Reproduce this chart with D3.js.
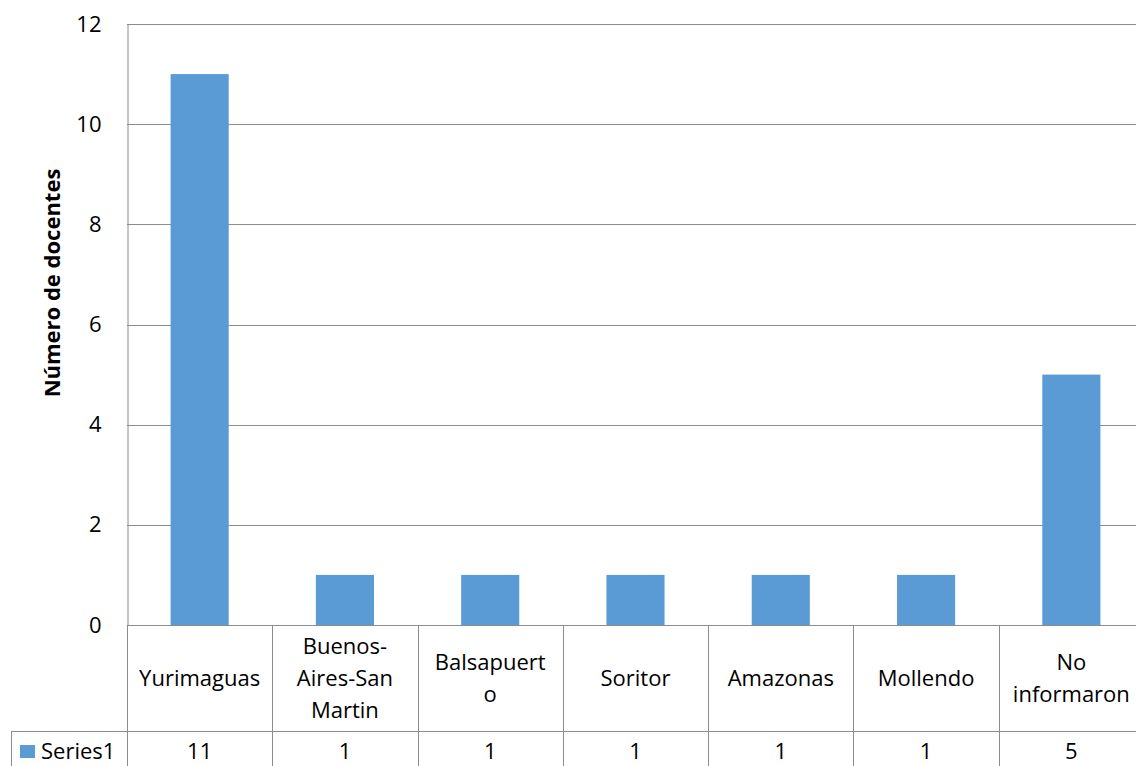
<!DOCTYPE html>
<html>
<head>
<meta charset="utf-8">
<script src="https://cdn.jsdelivr.net/npm/d3@7"></script>
<style>
  html, body { margin: 0; padding: 0; background: #fff; }
  svg { display: block; font-family: "Open Sans", Carlito, Calibri, sans-serif; }
</style>
</head>
<body>
<svg id="chart" width="1136" height="766"></svg>
<script>
// Teachers by place of origin
const categories = ["Yurimaguas", "Buenos-Aires-San Martin", "Balsapuerto", "Soritor", "Amazonas", "Mollendo", "No informaron"];
const categoryLines = [["Yurimaguas"], ["Buenos-", "Aires-San", "Martin"], ["Balsapuert", "o"], ["Soritor"], ["Amazonas"], ["Mollendo"], ["No", "informaron"]];
const values = [11, 1, 1, 1, 1, 1, 5];
const yTicks = [0, 2, 4, 6, 8, 10, 12];
const seriesName = "Series1";
const yTitle = "Número de docentes";

(function draw() {
  const svg = d3.select("#chart");
  const font = "'Open Sans', Carlito, Calibri, sans-serif";
  const plotLeft = 127, plotRight = 1144, plotTop = 24, zeroY = 625;
  const row1Bottom = 731, row2Bottom = 775, legendLeft = 11;
  const barColor = "#5B9BD5", gridColor = "#8C8C8C", fontSize = 22;

  const x = d3.scaleBand().domain(categories).range([plotLeft, plotRight]).paddingInner(0.6).paddingOuter(0.3);
  const band = d3.scaleBand().domain(categories).range([plotLeft, plotRight]);
  const y = d3.scaleLinear().domain([0, 12]).range([zeroY, plotTop]);

  // horizontal gridlines
  svg.append("g").selectAll("line").data(yTicks).join("line")
    .attr("x1", plotLeft).attr("x2", plotRight)
    .attr("y1", d => Math.round(y(d)) + 0.5).attr("y2", d => Math.round(y(d)) + 0.5)
    .attr("stroke", gridColor).attr("stroke-width", 1);

  // y axis with tick labels
  const yAxis = d3.axisLeft(y).tickValues(yTicks).tickSize(0).tickPadding(26);
  const gy = svg.append("g").attr("transform", `translate(${plotLeft + 0.5},0)`).call(yAxis)
    .attr("font-family", font).attr("font-size", fontSize);
  gy.select(".domain").attr("stroke", gridColor);
  gy.selectAll("text").attr("fill", "#000");

  // bars
  svg.append("g").selectAll("rect").data(values).join("rect")
    .attr("x", (d, i) => x(categories[i]))
    .attr("width", x.bandwidth())
    .attr("y", d => y(d))
    .attr("height", d => y(0) - y(d))
    .attr("fill", barColor);

  // data table below the plot
  const table = svg.append("g").attr("stroke", gridColor).attr("stroke-width", 1).attr("fill", "none");
  categories.forEach(c => {
    const bx = Math.round(band(c)) + 0.5;
    table.append("line").attr("x1", bx).attr("x2", bx).attr("y1", zeroY).attr("y2", row2Bottom);
  });
  table.append("line").attr("x1", legendLeft + 0.5).attr("x2", plotRight).attr("y1", row1Bottom + 0.5).attr("y2", row1Bottom + 0.5);
  table.append("line").attr("x1", legendLeft + 0.5).attr("x2", legendLeft + 0.5).attr("y1", row1Bottom).attr("y2", row2Bottom);

  // category labels
  const lineH = 32;
  const catG = svg.append("g").attr("font-size", fontSize).attr("text-anchor", "middle").attr("fill", "#000");
  categoryLines.forEach((lines, i) => {
    const cx = band(categories[i]) + band.bandwidth() / 2;
    const cy = (zeroY + row1Bottom) / 2;
    const t = catG.append("text").attr("x", cx);
    lines.forEach((ln, j) => {
      t.append("tspan").attr("x", cx)
        .attr("y", cy + (j - (lines.length - 1) / 2) * lineH)
        .attr("dy", "0.35em").text(ln);
    });
  });

  // value row
  const rowCy = 751;
  svg.append("g").attr("font-size", fontSize).attr("text-anchor", "middle").attr("fill", "#000")
    .selectAll("text").data(values).join("text")
    .attr("x", (d, i) => band(categories[i]) + band.bandwidth() / 2)
    .attr("y", rowCy).attr("dy", "0.35em").text(d => d);

  // legend key
  svg.append("rect").attr("x", 20).attr("y", 745).attr("width", 15).attr("height", 13).attr("fill", barColor);
  svg.append("text").attr("x", 41).attr("y", rowCy).attr("dy", "0.35em")
    .attr("font-size", fontSize).attr("fill", "#000").text(seriesName);

  // y axis title
  svg.append("text")
    .attr("transform", "translate(52,283) rotate(-90)")
    .attr("text-anchor", "middle").attr("dy", "0.35em")
    .attr("font-size", 22).attr("font-weight", "bold").attr("fill", "#000")
    .text(yTitle);
})();
</script>
</body>
</html>
